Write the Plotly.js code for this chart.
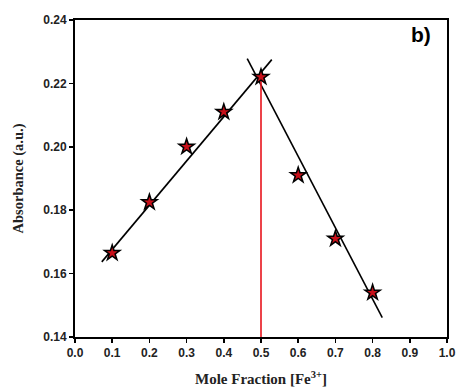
<!DOCTYPE html>
<html>
<head>
<meta charset="utf-8">
<script src="https://cdn.plot.ly/plotly-3.0.1.min.js"></script>
<style>html,body{margin:0;padding:0;background:#fff;}#chart{width:459px;height:392px;}</style>
</head>
<body>
<div id="chart"></div>
<script>
const moleFraction = [0.1, 0.2, 0.3, 0.4, 0.5, 0.6, 0.7, 0.8];
const absorbance = [0.1665, 0.1825, 0.200, 0.211, 0.222, 0.191, 0.171, 0.154];
const riseFitX = [0.072, 0.529];
const riseFitY = [0.1637, 0.2275];
const fallFitX = [0.463, 0.826];
const fallFitY = [0.2278, 0.1461];
const vlineX = [0.5, 0.5];
const vlineY = [0.14, 0.2225];
const xTicks = [0, 0.1, 0.2, 0.3, 0.4, 0.5, 0.6, 0.7, 0.8, 0.9, 1.0];
const yTicks = [0.14, 0.16, 0.18, 0.20, 0.22, 0.24];

const traces = [
  {x: riseFitX, y: riseFitY, mode: 'lines', line: {color: '#000', width: 1.6}, hoverinfo: 'skip'},
  {x: fallFitX, y: fallFitY, mode: 'lines', line: {color: '#000', width: 1.6}, hoverinfo: 'skip'},
  {x: vlineX, y: vlineY, mode: 'lines', line: {color: '#e8141c', width: 1.6}, hoverinfo: 'skip'},
  {x: moleFraction, y: absorbance, mode: 'markers', marker: {symbol: 'star', size: 15, color: '#000', line: {width: 0}}},
  {x: moleFraction, y: absorbance, mode: 'markers', marker: {symbol: 'star', size: 8, color: '#c8101a', line: {width: 0}}}
];

const axisCommon = {
  showgrid: false, zeroline: false, showline: true, linecolor: '#000', linewidth: 2,
  mirror: true, ticks: 'outside', ticklen: 4, tickwidth: 1.5, tickcolor: '#000',
  tickfont: {family: 'Arial, Liberation Sans, sans-serif', size: 12, color: '#222', weight: 'bold'}
};

const layout = {
  width: 459, height: 392,
  margin: {l: 75, r: 12, t: 20, b: 55},
  paper_bgcolor: '#fff', plot_bgcolor: '#fff',
  showlegend: false,
  xaxis: Object.assign({}, axisCommon, {
    range: [0, 1], tickvals: xTicks, ticktext: xTicks.map(v => v.toFixed(1)),
    title: {text: 'Mole Fraction [Fe<sup>3+</sup>]', standoff: 14,
      font: {family: 'Liberation Serif, Times New Roman, serif', size: 15, color: '#222', weight: 'bold'}}
  }),
  yaxis: Object.assign({}, axisCommon, {
    range: [0.14, 0.24], tickvals: yTicks, ticktext: yTicks.map(v => v.toFixed(2)),
    title: {text: 'Absorbance (a.u.)', standoff: 16,
      font: {family: 'Liberation Serif, Times New Roman, serif', size: 14.5, color: '#222', weight: 'bold'}}
  }),
  annotations: [{
    text: 'b)', xref: 'paper', yref: 'paper', x: 0.93, y: 0.955, xanchor: 'center', yanchor: 'middle',
    showarrow: false, font: {family: 'Liberation Sans, Arial, sans-serif', size: 21, color: '#000', weight: 'bold'}
  }]
};

Plotly.newPlot('chart', traces, layout, {displayModeBar: false, staticPlot: true});
</script>
</body>
</html>
